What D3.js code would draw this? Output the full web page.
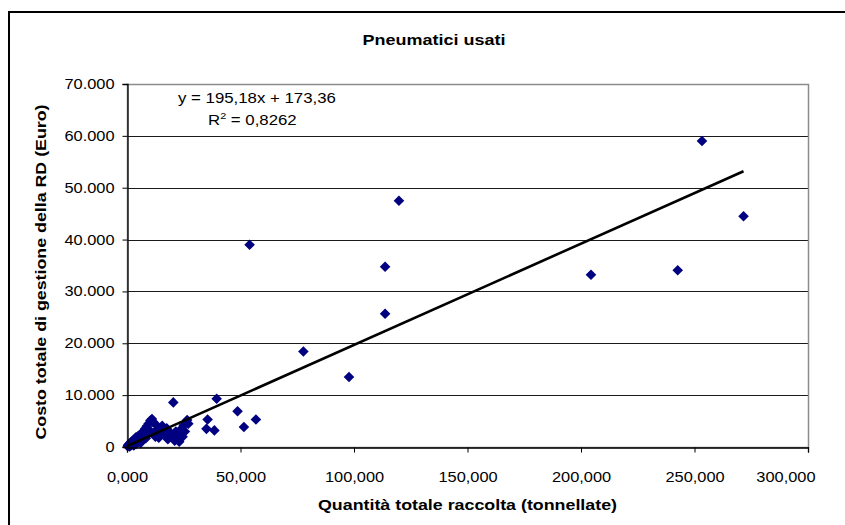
<!DOCTYPE html>
<html>
<head>
<meta charset="utf-8">
<script src="https://cdn.jsdelivr.net/npm/d3@7"></script>
<style>
  body { margin: 0; background: #fff; }
  svg { display: block; }
  text { font-family: "Liberation Sans", Arial, sans-serif; fill: #000; }
</style>
</head>
<body>
<svg></svg>
<script>
// Quantità raccolta (tonnellate) and costo (Euro)
const qty = [
  253.3, 271.6, 242.6, 204.4, 119.8, 113.7, 113.7, 77.7, 97.8, 54.0,
  39.5, 48.7, 56.8, 51.5, 35.5, 35.0, 38.5, 20.4,
  0.3, 0.5, 0.8, 1.0, 1.2, 1.5, 1.8, 2.0, 2.2, 2.5, 2.8, 3.0, 3.2, 3.5,
  3.8, 4.0, 4.3, 4.6, 5.0, 5.3, 5.6, 6.0, 6.2, 6.5, 7.0, 7.3, 7.6, 8.0,
  8.3, 8.7, 9.0, 9.5, 10.0, 10.3, 11.0, 11.5, 12.0, 12.5, 13.0, 13.5, 14.0,
  15.0, 15.5, 16.0, 17.0, 17.5, 18.0, 19.0, 20.0, 21.0, 21.5, 22.0, 22.5,
  23.0, 24.0, 24.5, 25.0, 25.5, 26.0, 26.5, 27.0
];
const cost = [
  59000, 44500, 34100, 33200, 47500, 34750, 25700, 18400, 13500, 39000,
  9300, 6900, 5300, 3850, 5300, 3500, 3200, 8600,
  150, 400, 250, 600, 100, 800, 350, 1000, 500, 1200, 700, 300, 1500, 900,
  1800, 600, 1300, 2000, 1100, 1600, 2300, 800, 2600, 1900, 1400, 3000, 2200, 3500,
  1700, 4000, 2500, 4500, 3200, 5100, 5400, 4800, 2800, 2000, 4200, 3300, 1800,
  2600, 4100, 3000, 2200, 3600, 1500, 2800, 2000, 1200, 3000, 1600, 2400,
  1000, 3500, 2000, 4200, 3000, 4800, 5200, 4500
];

const xTicks = [0, 50, 100, 150, 200, 250, 300];
const yTicks = [0, 10000, 20000, 30000, 40000, 50000, 60000, 70000];

// linear trend shown on the chart
const slope = 195.18;
const intercept = 173.36;
const r2 = 0.8262;

const it = d3.formatLocale({decimal: ",", thousands: ".", grouping: [3], currency: ["", "€"]});

const W = 845, H = 525;
const plot = {left: 127, right: 808, top: 84, bottom: 447};

const svg = d3.select("svg").attr("width", W).attr("height", H);

// chart frame
svg.append("rect")
    .attr("x", 9).attr("y", 12)
    .attr("width", 900).attr("height", 600)
    .attr("fill", "#fff")
    .attr("stroke", "#000")
    .attr("stroke-width", 2);

const x = d3.scaleLinear().domain([0, 300]).range([plot.left, plot.right]);
const y = d3.scaleLinear().domain([0, 70000]).range([plot.bottom, plot.top]);

// gridlines
svg.append("g")
  .selectAll("line")
  .data(yTicks.filter(d => d > 0 && d < 70000))
  .join("line")
    .attr("x1", plot.left).attr("x2", plot.right)
    .attr("y1", d => Math.round(y(d)) + 0.5)
    .attr("y2", d => Math.round(y(d)) + 0.5)
    .attr("stroke", "#1a1a1a")
    .attr("stroke-width", 1);

// plot area border (grey)
svg.append("rect")
    .attr("x", plot.left + 0.5).attr("y", plot.top + 0.5)
    .attr("width", plot.right - plot.left)
    .attr("height", plot.bottom - plot.top)
    .attr("fill", "none")
    .attr("stroke", "#8c8c8c")
    .attr("stroke-width", 1.5);

// points
const pts = qty.map((q, i) => ({q, c: cost[i]}));
svg.append("g")
  .selectAll("path")
  .data(pts)
  .join("path")
    .attr("d", d3.symbol(d3.symbolSquare, 56))
    .attr("transform", d => `translate(${x(d.q)},${y(d.c)}) rotate(45)`)
    .attr("fill", "#000080");

// trendline
const xMax = d3.max(qty);
svg.append("line")
    .attr("x1", x(0)).attr("y1", y(intercept))
    .attr("x2", x(xMax)).attr("y2", y(slope * xMax + intercept))
    .attr("stroke", "#000")
    .attr("stroke-width", 2.6);

// axes
const yAxis = svg.append("g")
    .attr("transform", `translate(${plot.left + 0.5},0)`)
    .call(d3.axisLeft(y).tickValues(yTicks).tickFormat(it.format(",.0f"))
      .tickSize(5).tickPadding(8));
const xAxis = svg.append("g")
    .attr("transform", `translate(0,${plot.bottom + 0.5})`)
    .call(d3.axisBottom(x).tickValues(xTicks).tickFormat(it.format(",.3f"))
      .tickSize(5).tickPadding(20));

[yAxis, xAxis].forEach(a => {
  a.select(".domain").attr("stroke", "#000").attr("stroke-width", 1.3);
  a.selectAll(".tick line").attr("stroke", "#000");
  a.selectAll(".tick text")
    .attr("font-family", '"Liberation Sans", Arial, sans-serif')
    .attr("font-size", 14)
    .attr("fill", "#000");
});

// the last x label is pulled inside the chart, as in the original
xAxis.selectAll(".tick text")
    .filter(d => d === xTicks[xTicks.length - 1])
    .attr("text-anchor", "end")
    .attr("x", 7);

// equation
const eq = svg.append("g").attr("font-size", 14);
eq.append("text")
    .attr("x", 178).attr("y", 103)
    .text(`y = ${it.format(",.2f")(slope)}x + ${it.format(",.2f")(intercept)}`);
const r2t = eq.append("text").attr("x", 208).attr("y", 125);
r2t.append("tspan").text("R");
r2t.append("tspan").attr("font-size", 9).attr("dy", -6).text("2");
r2t.append("tspan").attr("dy", 6).text(` = ${it.format(",.4f")(r2)}`);

// titles
svg.append("text")
    .attr("x", 434).attr("y", 45)
    .attr("text-anchor", "middle")
    .attr("font-size", 15)
    .attr("font-weight", "bold")
    .attr("textLength", 143)
    .attr("lengthAdjust", "spacingAndGlyphs")
    .text("Pneumatici usati");

svg.append("text")
    .attr("x", (plot.left + plot.right) / 2).attr("y", 510)
    .attr("text-anchor", "middle")
    .attr("font-size", 14)
    .attr("font-weight", "bold")
    .attr("textLength", 299)
    .attr("lengthAdjust", "spacingAndGlyphs")
    .text("Quantità totale raccolta (tonnellate)");

svg.append("text")
    .attr("transform", "rotate(-90)")
    .attr("x", -272).attr("y", 46)
    .attr("text-anchor", "middle")
    .attr("font-size", 14)
    .attr("font-weight", "bold")
    .attr("textLength", 335)
    .attr("lengthAdjust", "spacingAndGlyphs")
    .text("Costo totale di gestione della RD (Euro)");

// the original text is drawn a bit wider than the font
function stretch(sel, k) {
  sel.each(function() {
    const w = this.getComputedTextLength();
    d3.select(this).attr("textLength", w * k).attr("lengthAdjust", "spacingAndGlyphs");
  });
}
stretch(svg.selectAll(".tick text"), 1.17);
stretch(eq.selectAll("text"), 1.2);
</script>
</body>
</html>
